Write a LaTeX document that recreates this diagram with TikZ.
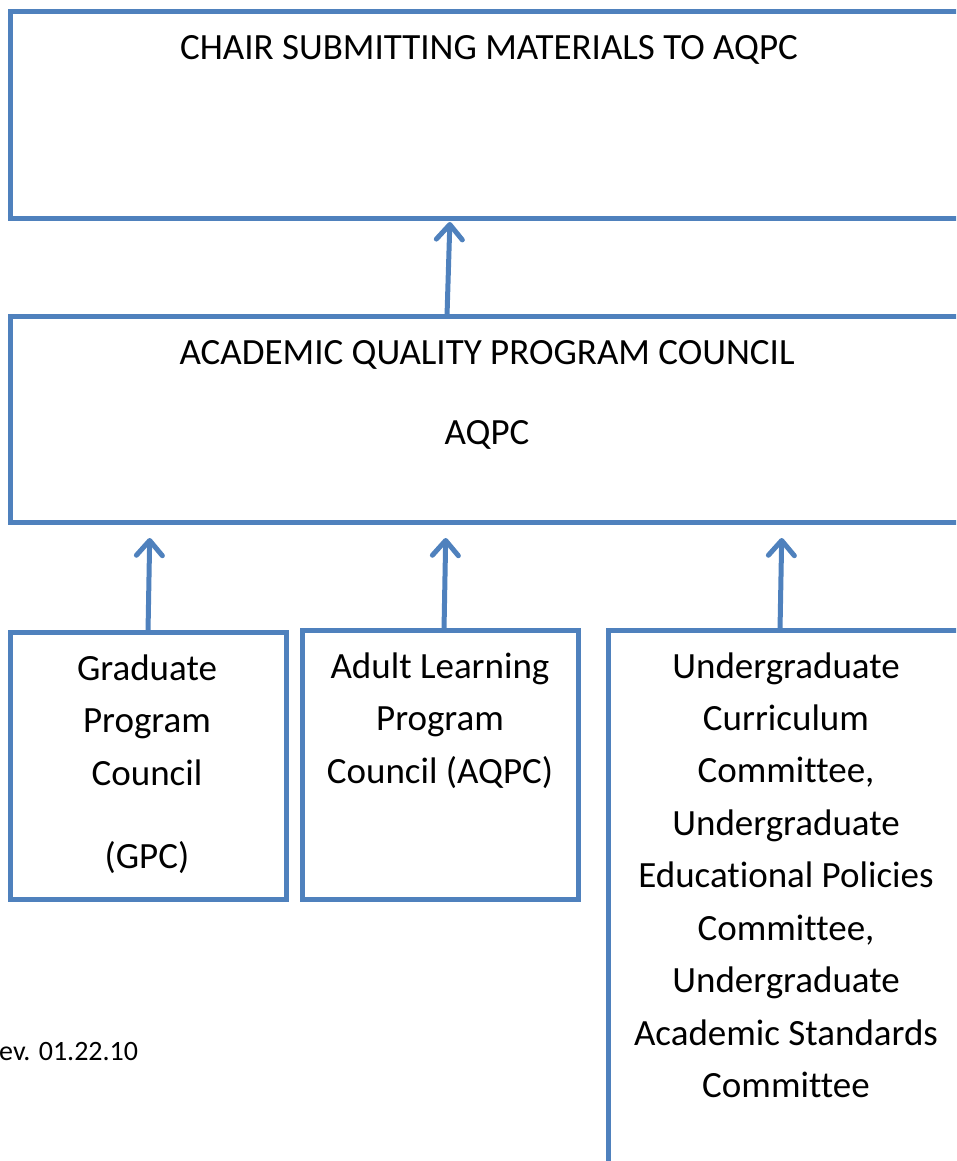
\documentclass[tikz,border=0pt]{standalone}
\usepackage{fontspec}
\setmainfont{Carlito}[Ligatures=NoCommon]
\usetikzlibrary{arrows.meta}
\definecolor{obl}{HTML}{4F81BD}
\begin{document}
\begin{tikzpicture}[x=1pt,y=-1pt,
  box/.style={draw=obl, line width=5pt, rectangle, inner sep=0pt, outer sep=0pt, anchor=north west},
  arr/.style={draw=obl, line width=5pt, -{Straight Barb[length=15pt,width=26pt,round]}},
  txt/.style={font=\fontsize{37}{52}\selectfont, inner sep=0pt, anchor=base},
  small/.style={font=\fontsize{28}{34}\selectfont, inner sep=0pt, anchor=base west}]
\useasboundingbox (0,0) rectangle (956,1161);
\clip (0,0) rectangle (956,1161);
% boxes
\node[box, minimum width=1000pt, minimum height=206pt] (top) at (10,12) {};
\node[box, minimum width=1000pt, minimum height=206pt] (mid) at (10,316) {};
\node[box, minimum width=276pt, minimum height=267pt] (gpc) at (10,632) {};
\node[box, minimum width=276pt, minimum height=269pt] (alp) at (302,630) {};
\node[box, minimum width=1000pt, minimum height=700pt] (ugc) at (608,630) {};
% texts
\node[txt] (t1) at (489,60) {CHAIR SUBMITTING MATERIALS TO AQPC};
\node[txt] (m1) at (487,364) {ACADEMIC QUALITY PROGRAM COUNCIL};
\node[txt] (m2) at (487,444) {AQPC};
\node[txt] (g1) at (147,680) {Graduate};
\node[txt] (g2) at (147,732) {Program};
\node[txt] (g3) at (147,785) {Council};
\node[txt] (g4) at (147,868) {(GPC)};
\node[txt] (a1) at (440,678) {Adult Learning};
\node[txt] (a2) at (440,730) {Program};
\node[txt] (a3) at (440,783) {Council (AQPC)};
\node[txt] (u1) at (786,678) {Undergraduate};
\node[txt] (u2) at (786,730) {Curriculum};
\node[txt] (u3) at (786,782) {Committee,};
\node[txt] (u4) at (786,835) {Undergraduate};
\node[txt] (u5) at (786,887) {Educational Policies};
\node[txt] (u6) at (786,940) {Committee,};
\node[txt] (u7) at (786,992) {Undergraduate};
\node[txt] (u8) at (786,1045) {Academic Standards};
\node[txt] (u9) at (786,1097) {Committee};
\node[small] (rev) at (-1,1060) {ev. 01.22.10};
% arrow x positions
\coordinate (x1a) at (447,0); \coordinate (x1b) at (450,0);
\coordinate (xga) at (148,0); \coordinate (xgb) at (150,0);
\coordinate (xaa) at (444,0); \coordinate (xab) at (446,0);
\coordinate (xua) at (780,0); \coordinate (xub) at (782,0);
% arrows
\draw[arr, shorten >=4pt] (mid.north -| x1a) -- (top.south -| x1b);
\draw[arr, shorten >=16pt] (gpc.north -| xga) -- (mid.south -| xgb);
\draw[arr, shorten >=16pt] (alp.north -| xaa) -- (mid.south -| xab);
\draw[arr, shorten >=16pt] (ugc.north -| xua) -- (mid.south -| xub);
\end{tikzpicture}
\end{document}
